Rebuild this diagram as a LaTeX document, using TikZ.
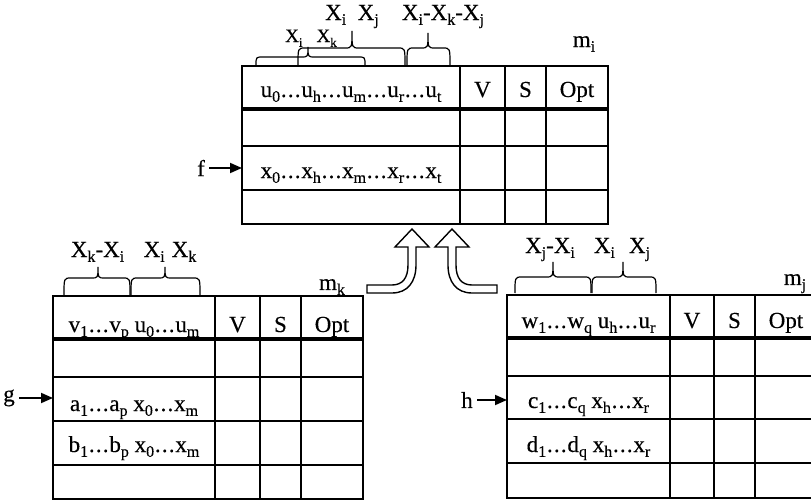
\documentclass[tikz,border=0pt]{standalone}
\usepackage{fontspec}
\setmainfont{Liberation Serif}[FakeBold=0.3]
\usetikzlibrary{arrows.meta}
\newcommand{\tsub}[2][8]{\raisebox{-2.4pt}{\fontsize{#1}{#1}\selectfont #2}}
\newcommand{\dts}{\kern0.4pt.\kern0.6pt.\kern0.6pt.\kern0.4pt}
% x1, x2, tip x, base y, middle y, tip y
\newcommand{\curlybrace}[6]{%
  \draw[brc] (#1,#4) .. controls (#1,#5) .. (#1+7,#5) -- (#3-7,#5)
    .. controls (#3,#5) .. (#3,#6) .. controls (#3,#5) .. (#3+7,#5)
    -- (#2-7,#5) .. controls (#2,#5) .. (#2,#4);}

\begin{document}
\begin{tikzpicture}[x=0.5pt, y=-0.5pt, >={Triangle[length=6pt,width=5pt]},
    every node/.style={font=\fontsize{11.5}{13}\selectfont, inner sep=0pt},
    small/.style={font=\fontsize{9.5}{11}\selectfont},
    pointer/.style={inner sep=2pt},
    frame/.style={line width=1pt},
    headline/.style={line width=1.6pt},
    rowline/.style={line width=0.7pt},
    brc/.style={line width=0.6pt},
    feed/.style={->, line width=0.9pt},
    hollow/.style={line width=0.7pt, fill=white, line join=miter}]
    \useasboundingbox (0,0) rectangle (811,503);
    \clip (0,0) rectangle (811,503);

    % table m_i
    \draw[frame] (242,66) rectangle (608,224);
    \draw[headline] (242,109) -- (608,109);
    \foreach \y in {146,190} \draw[rowline] (242,\y) -- (608,\y);
    \foreach \x in {460,505,546} \draw[frame] (\x,66) -- (\x,224);
    \node[anchor=base] (keyi) at (351,97) {u\tsub{0}\dts u\tsub{h}\dts u\tsub{m}\dts u\tsub{r}\dts u\tsub{t}};
    \node[anchor=base] (vali) at (482.5,97) {V};
    \node[anchor=base] (supi) at (525.5,97) {S};
    \node[anchor=base] (opti) at (577,97) {Opt};
    \node[anchor=base] (rowf) at (351,178) {x\tsub{0}\dts x\tsub{h}\dts x\tsub{m}\dts x\tsub{r}\dts x\tsub{t}};
    \node[anchor=base] (mi) at (584,47) {m\tsub{i}};
    \curlybrace{256}{365}{308}{65}{57}{47}
    \curlybrace{298}{405}{352}{65}{48}{31}
    \curlybrace{407}{450}{428}{65}{48}{33}
    \node[anchor=base, small] (lik) at (311,42) {X\tsub[6.5]{i}\hspace{7pt}X\tsub[6.5]{k}};
    \node[anchor=base] (lij) at (352,20) {X\tsub{i}\enspace X\tsub{j}};
    \node[anchor=base] (likj) at (443,20) {X\tsub{i}-X\tsub{k}-X\tsub{j}};
    \node[pointer] (f) at (201,168) {f};
    \coordinate (fin) at (242,168);
    \draw[feed] (f) -- (fin);

    % table m_k
    \draw[frame] (53,296) rectangle (363,499);
    \draw[headline] (53,339) -- (363,339);
    \foreach \y in {377,421,465} \draw[rowline] (53,\y) -- (363,\y);
    \foreach \x in {215,260,301} \draw[frame] (\x,296) -- (\x,499);
    \node[anchor=base] (keyk) at (134,332) {v\tsub{1}\dts v\tsub{p} u\tsub{0}\dts u\tsub{m}};
    \node[anchor=base] (valk) at (237.5,332) {V};
    \node[anchor=base] (supk) at (280.5,332) {S};
    \node[anchor=base] (optk) at (332,332) {Opt};
    \node[anchor=base] (rowg) at (134,411) {a\tsub{1}\dts a\tsub{p} x\tsub{0}\dts x\tsub{m}};
    \node[anchor=base] (rowgb) at (134,452) {b\tsub{1}\dts b\tsub{p} x\tsub{0}\dts x\tsub{m}};
    \node[anchor=base] (mk) at (332,290) {m\tsub{k}};
    \curlybrace{64}{130}{98}{295}{278}{267}
    \curlybrace{131}{200}{165}{295}{278}{267}
    \node[anchor=base] (lki) at (97.5,257) {X\tsub{k}-X\tsub{i}};
    \node[anchor=base] (likb) at (170,257) {X\tsub{i}\hspace{3.5pt}X\tsub{k}};
    \node[pointer] (g) at (9,398) {g};
    \coordinate (gin) at (53,398);
    \draw[feed] (g) -- (gin);

    % table m_j
    \draw[frame] (507,295) rectangle (817,498);
    \draw[headline] (507,338) -- (817,338);
    \foreach \y in {376,419,463} \draw[rowline] (507,\y) -- (817,\y);
    \foreach \x in {670,714,755} \draw[frame] (\x,295) -- (\x,498);
    \node[anchor=base] (keyj) at (588.5,328) {w\tsub{1}\dts w\tsub{q} u\tsub{h}\dts u\tsub{r}};
    \node[anchor=base] (valj) at (692,328) {V};
    \node[anchor=base] (supj) at (734.5,328) {S};
    \node[anchor=base] (optj) at (786,328) {Opt};
    \node[anchor=base] (rowh) at (588.5,408) {c\tsub{1}\dts c\tsub{q} x\tsub{h}\dts x\tsub{r}};
    \node[anchor=base] (rowhd) at (588.5,452) {d\tsub{1}\dts d\tsub{q} x\tsub{h}\dts x\tsub{r}};
    \node[anchor=base] (mj) at (795,285) {m\tsub{j}};
    \curlybrace{515}{591}{553}{293}{277}{262}
    \curlybrace{592}{656}{623}{293}{277}{262}
    \node[anchor=base] (lji) at (550,253) {X\tsub{j}-X\tsub{i}};
    \node[anchor=base] (lijb) at (622,253) {X\tsub{i}\hspace{7pt}X\tsub{j}};
    \node[pointer] (h) at (467,400) {h};
    \coordinate (hin) at (507,400);
    \draw[feed] (h) -- (hin);

    % merge arrows
    \draw[hollow] (367,293) -- (392,293) .. controls (407.5,293) and (416,282) .. (416,265)
        -- (416,247) -- (429,247) -- (412,229) -- (395,247) -- (408,247) -- (408,265)
        .. controls (408,278) and (402.5,285) .. (392,285) -- (367,285) -- cycle;
    \draw[hollow] (497,293) -- (472,293) .. controls (456.5,293) and (448,282) .. (448,265)
        -- (448,247) -- (435,247) -- (452,229) -- (469,247) -- (456,247) -- (456,265)
        .. controls (456,278) and (461.5,285) .. (472,285) -- (497,285) -- cycle;
\end{tikzpicture}
\end{document}
